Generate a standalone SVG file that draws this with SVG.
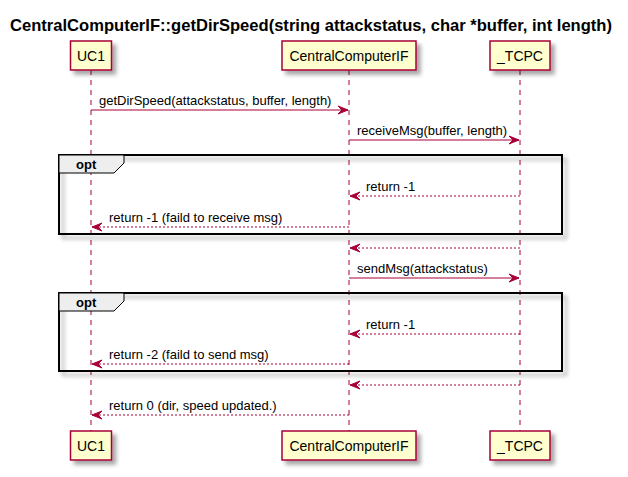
<svg xmlns="http://www.w3.org/2000/svg" width="628" height="477" viewBox="0 0 628 477">
<defs>
<filter id="sh" x="-10%" y="-10%" width="130%" height="140%">
<feGaussianBlur in="SourceAlpha" stdDeviation="2"/>
<feOffset dx="4" dy="4" result="b"/>
<feComponentTransfer><feFuncA type="linear" slope="0.35"/></feComponentTransfer>
<feMerge><feMergeNode/><feMergeNode in="SourceGraphic"/></feMerge>
</filter>
<marker id="ah" viewBox="0 0 11 10" refX="10" refY="5" markerWidth="11" markerHeight="10" markerUnits="userSpaceOnUse" orient="auto">
<polygon points="0,1 10,5 0,9 4,5" fill="#A80036" stroke="#A80036" stroke-width="1"/>
</marker>
</defs>
<style>
.title{font-family:"Liberation Sans",Arial,sans-serif;font-size:16.5px;font-weight:bold;fill:#000}
.pbox{fill:#FEFECE;stroke:#A80036;stroke-width:1.5}
.ptxt{font-family:"Liberation Sans",Arial,sans-serif;font-size:14px;fill:#000;text-anchor:middle}
.life{stroke:#A80036;stroke-width:1;stroke-dasharray:5,5;fill:none}
.msg{stroke:#A80036;stroke-width:1;fill:none;marker-end:url(#ah)}
.ret{stroke:#A80036;stroke-width:1;fill:none;stroke-dasharray:2,2;marker-end:url(#ah)}
.mtxt{font-family:"Liberation Sans",Arial,sans-serif;font-size:13px;fill:#000}
.frame{fill:none;stroke:#000;stroke-width:2}
.tab{fill:#EEEEEE;stroke:#000;stroke-width:1}
.otxt{font-family:"Liberation Sans",Arial,sans-serif;font-size:13px;font-weight:bold;fill:#000}
</style>
<rect width="628" height="477" fill="#FFFFFF"/>
<text class="title" x="10" y="31" textLength="602" lengthAdjust="spacingAndGlyphs">CentralComputerIF::getDirSpeed(string attackstatus, char *buffer, int length)</text>

<g id="lifelines">
<line class="life" x1="91" y1="70" x2="91" y2="431"/>
<line class="life" x1="349" y1="70" x2="349" y2="431"/>
<line class="life" x1="520" y1="70" x2="520" y2="431"/>
</g>

<g id="frame1">
<rect class="frame" x="59" y="155" width="503" height="79" filter="url(#sh)"/>
<polygon class="tab" points="59,155 124,155 124,163 114,173 59,173"/>
<text class="otxt" x="76" y="169">opt</text>
</g>
<g id="frame2">
<rect class="frame" x="59" y="293" width="503" height="78" filter="url(#sh)"/>
<polygon class="tab" points="59,293 124,293 124,301 114,311 59,311"/>
<text class="otxt" x="76" y="307">opt</text>
</g>

<g id="UC1">
<rect class="pbox" x="70.5" y="41" width="41" height="29" filter="url(#sh)"/>
<text class="ptxt" x="91" y="60.5">UC1</text>
<rect class="pbox" x="70.5" y="431" width="41" height="29" filter="url(#sh)"/>
<text class="ptxt" x="91" y="450.5">UC1</text>
</g>
<g id="CentralComputerIF">
<rect class="pbox" x="282" y="41" width="134" height="29" filter="url(#sh)"/>
<text class="ptxt" x="349" y="60.5">CentralComputerIF</text>
<rect class="pbox" x="282" y="431" width="134" height="29" filter="url(#sh)"/>
<text class="ptxt" x="349" y="450.5">CentralComputerIF</text>
</g>
<g id="TCPC">
<rect class="pbox" x="490" y="41" width="60" height="29" filter="url(#sh)"/>
<text class="ptxt" x="520" y="60.5">_TCPC</text>
<rect class="pbox" x="490" y="431" width="60" height="29" filter="url(#sh)"/>
<text class="ptxt" x="520" y="450.5">_TCPC</text>
</g>

<g id="connectors">
<line class="msg" x1="91" y1="110" x2="348" y2="110"/>
<line class="msg" x1="349" y1="140" x2="519" y2="140"/>
<line class="ret" x1="520" y1="196" x2="350" y2="196"/>
<line class="ret" x1="349" y1="227" x2="92" y2="227"/>
<line class="ret" x1="520" y1="248" x2="350" y2="248"/>
<line class="msg" x1="349" y1="278" x2="519" y2="278"/>
<line class="ret" x1="520" y1="334" x2="350" y2="334"/>
<line class="ret" x1="349" y1="364" x2="92" y2="364"/>
<line class="ret" x1="520" y1="385" x2="350" y2="385"/>
<line class="ret" x1="349" y1="415" x2="92" y2="415"/>
</g>
<g id="labels">
<text class="mtxt" x="99" y="105">getDirSpeed(attackstatus, buffer, length)</text>
<text class="mtxt" x="357" y="135">receiveMsg(buffer, length)</text>
<text class="mtxt" x="366" y="191">return -1</text>
<text class="mtxt" x="109" y="222">return -1 (faild to receive msg)</text>
<text class="mtxt" x="357" y="273">sendMsg(attackstatus)</text>
<text class="mtxt" x="366" y="329">return -1</text>
<text class="mtxt" x="109" y="359">return -2 (faild to send msg)</text>
<text class="mtxt" x="109" y="410">return 0 (dir, speed updated.)</text>
</g>
</svg>
